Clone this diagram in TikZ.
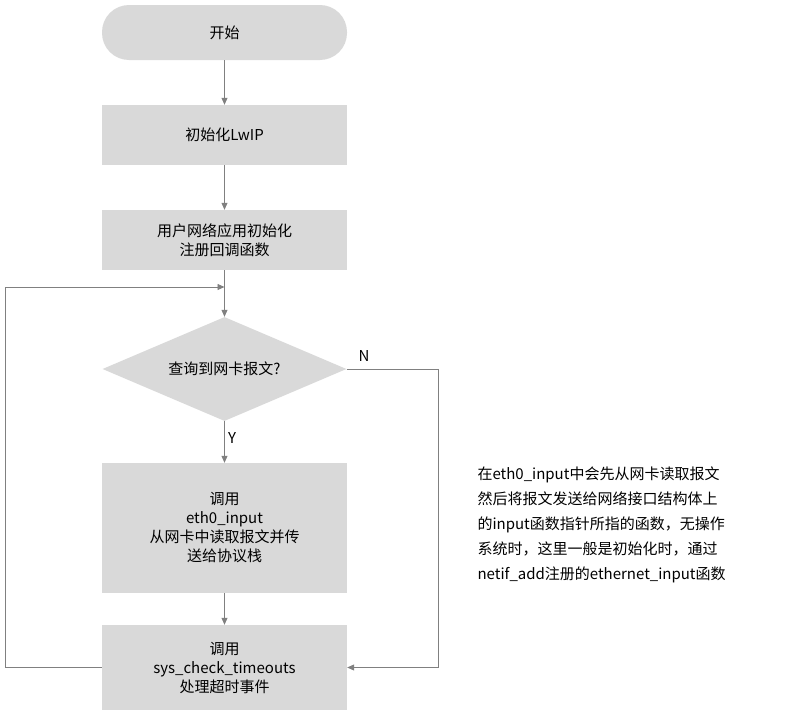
\documentclass[tikz,border=0pt]{standalone}
\usepackage{fontspec}
\setmainfont{Noto Sans CJK SC}
\usetikzlibrary{shapes.geometric,arrows.meta}
\begin{document}
\begin{tikzpicture}[x=1pt,y=-1pt,
  box/.style={draw=none,fill=black!15,minimum width=245pt,align=center,font=\fontsize{15}{19}\selectfont},
  conn/.style={draw=black!50,line width=0.8pt,-{Triangle[length=7pt,width=6pt]}},
  lab/.style={font=\fontsize{15}{19}\selectfont}]
\useasboundingbox (0,0) rectangle (807,712);
\node[box,rounded corners=27pt,minimum height=55pt] (s) at (224.5,32.5) {开始};
\node[box,minimum height=60pt] (b2) at (224.5,135) {初始化LwIP};
\node[box,minimum height=60pt] (b3) at (224.5,240) {用户网络应用初始化\\注册回调函数};
\node[diamond,fill=black!15,minimum width=244pt,minimum height=104pt,inner sep=0pt,aspect=2.3,lab] (d) at (224.5,369) {};
\node[lab] at (d) {查询到网卡报文?};
\node[box,minimum height=130pt] (b4) at (224.5,528) {调用\\eth0\_input\\从网卡中读取报文并传\\送给协议栈};
\node[box,minimum height=85pt] (b5) at (224.5,667.5) {调用\\sys\_check\_timeouts\\处理超时事件};
\coordinate (m) at (224.5,287);
\draw[conn] (s) -- (b2);
\draw[conn] (b2) -- (b3);
\draw[draw=black!50,line width=0.8pt] (b3) -- (m);
\draw[conn] (m) -- (d.north);
\draw[conn] (d.south) -- node[lab,right,pos=0.4,text=black] {Y} (b4);
\draw[conn] (b4) -- (b5);
\draw[conn] (b5.west) -- (5,667.5) -- (5,287) -- (m);
\draw[conn] (d.east) -- (438,369) -- (438,667.5) -- (b5.east);
\node[lab] at (364,356) {N};
\node[lab,anchor=north west,align=left,font=\fontsize{15}{25}\selectfont] (t) at (474,463) {在eth0\_input中会先从网卡读取报文\\然后将报文发送给网络接口结构体上\\的input函数指针所指的函数，无操作\\系统时，这里一般是初始化时，通过\\netif\_add注册的ethernet\_input函数};
\end{tikzpicture}
\end{document}
